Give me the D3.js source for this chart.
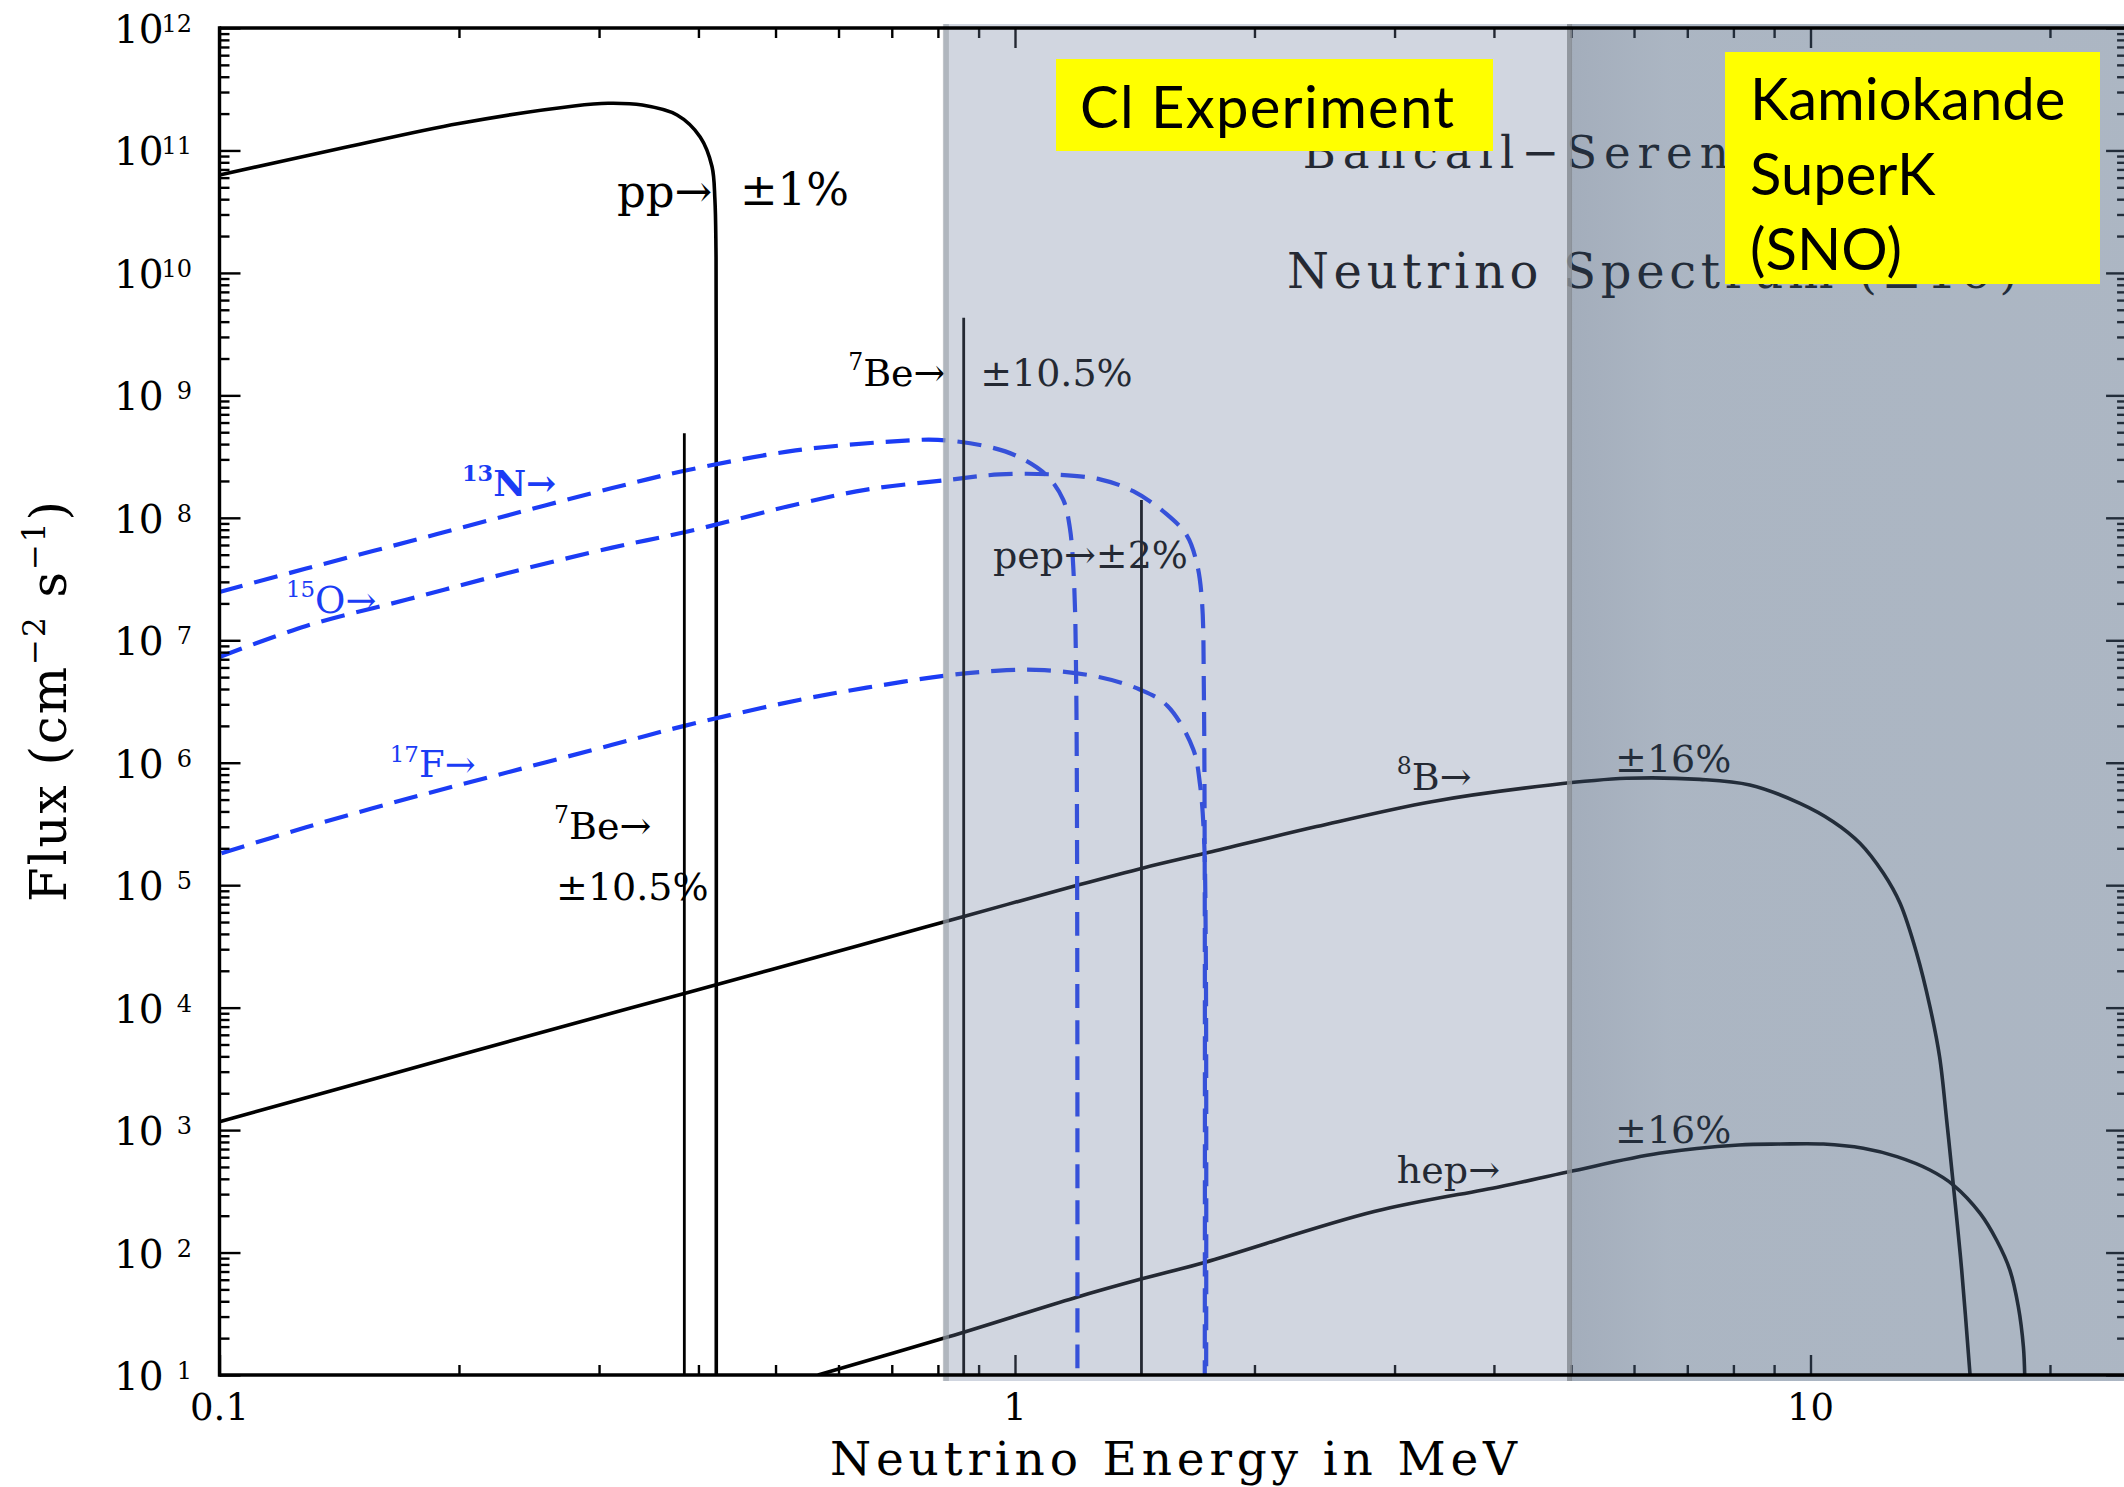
<!DOCTYPE html>
<html>
<head>
<meta charset="utf-8">
<script src="https://cdn.jsdelivr.net/npm/d3@7"></script>
<style>
  html, body { margin: 0; padding: 0; background: #ffffff; }
  svg { display: block; }
</style>
</head>
<body>
<svg id="chart" width="2124" height="1487"></svg>
<script>
// ---------------------------------------------------------------------------
// Solar neutrino spectra. Energy in MeV, flux in cm^-2 s^-1 (per MeV for the
// continuum sources, total for the line sources).
// ---------------------------------------------------------------------------
const ppSpectrum = [
  [0.100, 6.3e10], [0.144, 1.06e11], [0.200, 1.66e11], [0.279, 2.31e11],
  [0.308, 2.43e11], [0.340, 2.35e11], [0.376, 1.95e11], [0.402, 1.29e11],
  [0.416, 7.4e10], [0.4195, 4.0e10], [0.4208, 1.6e10], [0.4211, 2.0e9],
  [0.4212, 10]
];
const b8Spectrum = [
  [0.100, 1.17e3], [0.160, 2.73e3], [0.279, 7.43e3], [0.385, 1.31e4],
  [0.640, 3.25e4], [0.860, 5.53e4], [1.191, 9.89e4], [1.454, 1.39e5],
  [1.733, 1.82e5], [2.394, 3.01e5], [3.339, 4.81e5], [4.71, 6.58e5],
  [5.87, 7.46e5], [7.26, 7.31e5], [8.39, 6.58e5], [9.70, 4.66e5],
  [10.68, 3.30e5], [11.54, 2.20e5], [12.35, 1.25e5], [12.96, 7.11e4],
  [13.6, 2.77e4], [14.13, 1.02e4], [14.53, 3.97e3], [14.83, 1.21e3],
  [15.12, 356], [15.49, 72], [15.87, 10]
];
const hepSpectrum = [
  [0.5654, 10], [0.825, 20.5], [1.19, 42.8], [1.444, 61], [1.73, 83],
  [2.828, 216], [4.07, 345], [4.97, 457], [6.45, 646], [8.13, 755],
  [9.16, 769], [10.38, 769], [11.65, 710], [12.84, 607], [14.13, 472],
  [15.12, 356], [16.34, 209], [17.14, 126], [17.81, 71.9], [18.25, 36.1],
  [18.52, 17.0], [18.59, 10]
];
const n13Spectrum = [
  [0.100, 2.48e7], [0.1285, 3.85e7], [0.1726, 6.37e7], [0.2318, 1.06e8],
  [0.3117, 1.75e8], [0.384, 2.42e8], [0.530, 3.55e8], [0.738, 4.29e8],
  [0.800, 4.33e8], [0.912, 3.89e8], [1.005, 3.2e8], [1.096, 2.22e8],
  [1.150, 1.4e8], [1.172, 8.3e7], [1.186, 3.1e7], [1.194, 4.0e6],
  [1.198, 10]
];
const o15Spectrum = [
  [0.100, 7.3e6], [0.1285, 1.31e7], [0.1726, 2.16e7], [0.2318, 3.58e7],
  [0.3117, 5.71e7], [0.384, 7.62e7], [0.537, 1.31e8], [0.651, 1.70e8],
  [0.829, 2.05e8], [0.956, 2.26e8], [1.117, 2.26e8], [1.279, 2.06e8],
  [1.408, 1.65e8], [1.551, 1.07e8], [1.644, 7.2e7], [1.692, 4.3e7],
  [1.717, 2.2e7], [1.728, 3.2e6], [1.732, 10]
];
const f17Spectrum = [
  [0.100, 1.8e5], [0.1285, 2.97e5], [0.1726, 5.1e5], [0.2318, 8.45e5],
  [0.3117, 1.4e6], [0.384, 2.0e6], [0.537, 3.27e6], [0.651, 4.1e6],
  [0.821, 5.16e6], [0.976, 5.7e6], [1.089, 5.7e6], [1.279, 4.99e6],
  [1.435, 3.96e6], [1.554, 2.92e6], [1.675, 1.29e6], [1.708, 6.7e5],
  [1.728, 2.5e5], [1.737, 3.2e4], [1.739, 10]
];

// Monoenergetic lines
const lineSources  = ["7Be", "7Be", "pep"];
const lineEnergies = [0.384, 0.862, 1.442];
const lineFluxes   = [4.9e8, 4.3e9, 1.4e8];

// Detector thresholds (MeV)
const thresholdNames    = ["Cl Experiment", "Kamiokande SuperK (SNO)"];
const thresholdEnergies = [0.814, 5.0];

// Axis ticks
const xTickValues    = [0.1, 1, 10];
const xTickLabels    = ["0.1", "1", "10"];
const yTickExponents = [1, 2, 3, 4, 5, 6, 7, 8, 9, 10, 11, 12];

// ---------------------------------------------------------------------------
const W = 2124, H = 1487;
const plotLeft = 219.5, plotTop = 28, plotBottom = 1375;
const decadePx = 795.5;
const xDomain = [0.1, 25];
const yDomain = [10, 1e12];

const x = d3.scaleLog().domain(xDomain)
  .range([plotLeft, plotLeft + decadePx * Math.log10(xDomain[1] / xDomain[0])]);
const y = d3.scaleLog().domain(yDomain).range([plotBottom, plotTop]);
const plotRight = x.range()[1];

const svg = d3.select("#chart");
const SERIF = "'DejaVu Serif', 'Liberation Serif', serif";
const SANS = "Lato, 'Open Sans', 'Noto Sans', sans-serif";
const BLUE = "#1b3cf5";
const DASH = [24, 12];

svg.append("rect").attr("width", W).attr("height", H).attr("fill", "#ffffff");

const defs = svg.append("defs");
defs.append("clipPath").attr("id", "plotClip")
  .append("rect").attr("x", plotLeft).attr("y", plotTop)
  .attr("width", plotRight - plotLeft).attr("height", plotBottom - plotTop);

const darkGrad = defs.append("linearGradient").attr("id", "darkGrad")
  .attr("x1", "0").attr("x2", "1").attr("y1", "0").attr("y2", "0");
darkGrad.append("stop").attr("offset", "0").attr("stop-color", "rgb(72,92,120)").attr("stop-opacity", 0.5);
darkGrad.append("stop").attr("offset", "0.18").attr("stop-color", "rgb(75,97,125)").attr("stop-opacity", 0.465);
darkGrad.append("stop").attr("offset", "1").attr("stop-color", "rgb(75,97,125)").attr("stop-opacity", 0.46);

// Text with superscript runs. parts = [[string, isSup], ...]
function richText(sel, parts, fs) {
  let shift = 0;
  parts.forEach(p => {
    const target = p[1] ? -0.42 * fs : 0;
    sel.append("tspan")
      .attr("dy", target - shift)
      .attr("font-size", p[1] ? fs * 0.62 : fs)
      .text(p[0]);
    shift = target;
  });
  return sel;
}

// ---------------------------------------------------------------------------
// Spectra
const plot = svg.append("g").attr("clip-path", "url(#plotClip)");
const line = d3.line()
  .x(d => x(d[0]))
  .y(d => y(d[1]))
  .curve(d3.curveCatmullRom.alpha(0.5));

[ppSpectrum, b8Spectrum, hepSpectrum].forEach(s => {
  plot.append("path").datum(s).attr("d", line)
    .attr("fill", "none").attr("stroke", "#000").attr("stroke-width", 3.6);
});

const cno = [n13Spectrum, o15Spectrum, f17Spectrum].map(s =>
  plot.append("path").datum(s).attr("d", line)
    .attr("fill", "none").attr("stroke", BLUE).attr("stroke-width", 4.2)
    .attr("stroke-dasharray", DASH.join(","))
);
// 15O and 17F end at nearly the same energy: shift the 17F dash phase so that
// the two coinciding verticals interleave into a continuous stroke.
{
  const period = DASH[0] + DASH[1];
  const lo = cno[1].node().getTotalLength();
  const lf = cno[2].node().getTotalLength();
  cno[2].attr("stroke-dashoffset", lo - lf - period / 2);
}

plot.selectAll("line.mono").data(lineEnergies).join("line")
  .attr("class", "mono")
  .attr("x1", d => x(d)).attr("x2", d => x(d))
  .attr("y1", y(yDomain[0]))
  .attr("y2", (d, i) => y(lineFluxes[i]))
  .attr("stroke", "#000").attr("stroke-width", 2.8);

// ---------------------------------------------------------------------------
// Source annotations (anchored in data coordinates)
const notes = svg.append("g").attr("font-family", SERIF);
function note(E, F, parts, fs, color, weight) {
  const t = notes.append("text")
    .attr("x", x(E)).attr("y", y(F))
    .attr("fill", color || "#000")
    .attr("font-weight", weight || "normal");
  richText(t, parts, fs);
  return t;
}
note(0.316, 3.45e10, [["pp→", 0]], 45);
note(0.451, 3.58e10, [["±1%", 0]], 45);
note(0.617, 1.19e9, [["7", 1], ["Be→", 0]], 38);
note(0.904, 1.19e9, [["±10.5%", 0]], 38);
note(0.938, 3.89e7, [["pep→±2%", 0]], 38);
note(0.2018, 1.51e8, [["13", 1], ["N→", 0]], 36, BLUE, "bold");
note(0.1212, 1.67e7, [["15", 1], ["O→", 0]], 37, BLUE);
note(0.1637, 7.64e5, [["17", 1], ["F→", 0]], 37, BLUE);
note(0.2634, 2.38e5, [["7", 1], ["Be→", 0]], 38);
note(0.2649, 7.57e4, [["±10.5%", 0]], 38);
note(3.02, 5.98e5, [["8", 1], ["B→", 0]], 38);
note(5.68, 8.39e5, [["±16%", 0]], 38);
note(3.02, 370, [["hep→", 0]], 38);
note(5.68, 783, [["±16%", 0]], 38);

// Plot title (largely hidden behind the detector labels)
notes.append("text").attr("x", x(2.30)).attr("y", y(7.2e10))
  .attr("font-size", 45).attr("letter-spacing", 7).attr("fill", "#000")
  .text("Bahcall−Serenelli 2005");
notes.append("text").attr("x", x(2.197)).attr("y", y(7.53e9))
  .attr("font-size", 48).attr("fill", "#000")
  .attr("textLength", 731).attr("lengthAdjust", "spacing")
  .text("Neutrino Spectrum (±1σ)");

// ---------------------------------------------------------------------------
// Ticks (pointing inward on all four sides)
const xMinor = x.ticks().filter(v => !xTickValues.includes(v));
const yMajor = yTickExponents.map(e => Math.pow(10, e));
const yMinor = [];
yTickExponents.slice(0, -1).forEach(e => {
  for (let k = 2; k <= 9; k++) yMinor.push(k * Math.pow(10, e));
});

const ticks = svg.append("g");
function tickSet(axis, values, size, transform) {
  ticks.append("g").attr("transform", transform)
    .call(axis.tickValues(values).tickSize(-size).tickSizeOuter(0).tickFormat(""));
}
tickSet(d3.axisBottom(x), xTickValues, 20, `translate(0,${plotBottom})`);
tickSet(d3.axisBottom(x), xMinor, 10, `translate(0,${plotBottom})`);
tickSet(d3.axisTop(x), xTickValues, 20, `translate(0,${plotTop})`);
tickSet(d3.axisTop(x), xMinor, 10, `translate(0,${plotTop})`);
tickSet(d3.axisLeft(y), yMajor, 21, `translate(${plotLeft},0)`);
tickSet(d3.axisLeft(y), yMinor, 10, `translate(${plotLeft},0)`);
tickSet(d3.axisRight(y), yMajor, 21, `translate(${plotRight},0)`);
tickSet(d3.axisRight(y), yMinor, 10, `translate(${plotRight},0)`);
ticks.selectAll(".domain").remove();
ticks.selectAll("line").attr("stroke", "#000").attr("stroke-width", 2.4);

// ---------------------------------------------------------------------------
// Detector sensitivity bands
const bandTop = plotTop - 4, bandBottom = plotBottom + 6;
const bx0 = x(thresholdEnergies[0]), bx1 = x(thresholdEnergies[1]);
svg.append("rect").attr("x", bx0).attr("y", bandTop)
  .attr("width", bx1 - bx0).attr("height", bandBottom - bandTop)
  .attr("fill", "rgb(113,128,160)").attr("fill-opacity", 0.32);
svg.append("rect").attr("x", bx1).attr("y", bandTop)
  .attr("width", W - bx1).attr("height", bandBottom - bandTop)
  .attr("fill", "url(#darkGrad)");
svg.append("rect").attr("x", bx0 - 1).attr("y", bandTop)
  .attr("width", 6).attr("height", bandBottom - bandTop)
  .attr("fill", "#9aa0a6").attr("fill-opacity", 0.6);
svg.append("rect").attr("x", bx1 - 4).attr("y", bandTop)
  .attr("width", 5).attr("height", bandBottom - bandTop)
  .attr("fill", "#868c93").attr("fill-opacity", 0.85);

// Frame
const frame = svg.append("g").attr("stroke", "#000").attr("stroke-width", 3.4);
frame.append("line").attr("x1", plotLeft).attr("x2", plotRight).attr("y1", plotTop).attr("y2", plotTop);
frame.append("line").attr("x1", plotLeft).attr("x2", plotRight).attr("y1", plotBottom).attr("y2", plotBottom);
frame.append("line").attr("x1", plotLeft).attr("x2", plotLeft).attr("y1", plotTop - 1.7).attr("y2", plotBottom + 1.7);

// ---------------------------------------------------------------------------
// Detector labels
const boxes = svg.append("g").attr("font-family", SANS);
boxes.append("rect").attr("x", 1056).attr("y", 59).attr("width", 437).attr("height", 92)
  .attr("fill", "#ffff00");
boxes.append("text").attr("x", 1080).attr("y", 128).attr("font-size", 58)
  .attr("textLength", 374).attr("lengthAdjust", "spacing")
  .text(thresholdNames[0]);

boxes.append("rect").attr("x", 1725).attr("y", 52).attr("width", 375).attr("height", 232)
  .attr("fill", "#ffff00");
thresholdNames[1].split(" ").forEach((w, i) => {
  boxes.append("text").attr("x", 1750).attr("y", 120 + i * 75)
    .attr("font-size", 58).text(w);
});

// ---------------------------------------------------------------------------
// Tick labels and axis titles
const labels = svg.append("g").attr("font-family", SERIF).attr("fill", "#000");
labels.selectAll("text.xt").data(xTickValues).join("text")
  .attr("class", "xt")
  .attr("x", d => x(d)).attr("y", plotBottom + 45)
  .attr("text-anchor", "middle").attr("font-size", 37)
  .text((d, i) => xTickLabels[i]);

const yl = labels.selectAll("g.yt").data(yTickExponents).join("g")
  .attr("class", "yt")
  .attr("transform", e => `translate(0,${y(Math.pow(10, e))})`);
yl.append("text").attr("x", 114).attr("y", 15).attr("font-size", 39).text("10");
yl.append("text").attr("x", 192).attr("y", 4).attr("text-anchor", "end")
  .attr("font-size", 24).text(e => e);

labels.append("text")
  .attr("x", 830).attr("y", 1475).attr("font-size", 47)
  .attr("textLength", 687).attr("lengthAdjust", "spacing")
  .text("Neutrino Energy in MeV");

const ylab = labels.append("text")
  .attr("transform", "translate(66,902) rotate(-90)")
  .attr("font-size", 50)
  .attr("textLength", 401).attr("lengthAdjust", "spacing");
richText(ylab, [["Flux (cm", 0], ["−2", 1], [" s", 0], ["−1", 1], [")", 0]], 50);
</script>
</body>
</html>
